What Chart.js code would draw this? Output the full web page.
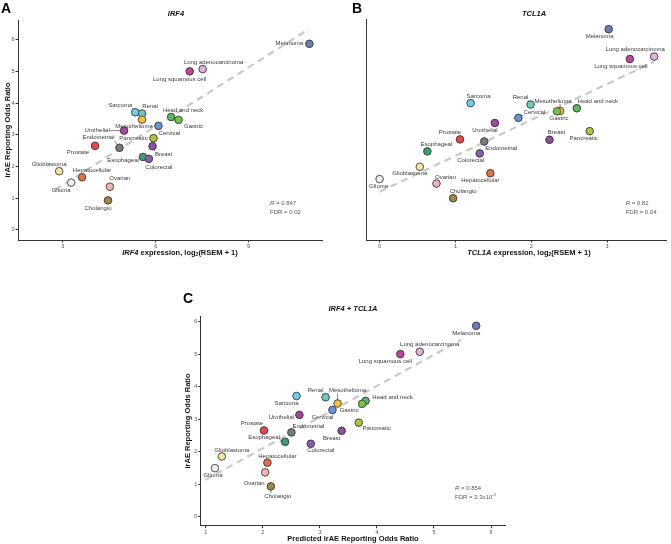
<!DOCTYPE html>
<html lang="en">
<head>
<meta charset="UTF-8">
<title>irAE Reporting Odds Ratio</title>
<script src="https://cdn.jsdelivr.net/npm/chart.js"></script>
</head>
<body style="margin:0; background:#fff; width:671px; height:544px; position:relative; overflow:hidden;">
<canvas id="chartA" width="335" height="270" style="position:absolute; left:0; top:0;"></canvas>
<canvas id="chartB" width="336" height="270" style="position:absolute; left:335px; top:0;"></canvas>
<canvas id="chartC" width="350" height="274" style="position:absolute; left:160px; top:270px;"></canvas>
<script>
// data
const cancers = ['Melanoma', 'Lung adenocarcinoma', 'Lung squamous cell', 'Sarcoma', 'Renal', 'Mesothelioma',
    'Head and neck', 'Gastric', 'Cervical', 'Urothelial', 'Pancreatic', 'Endometrial', 'Breast', 'Prostate',
    'Esophageal', 'Colorectal', 'Glioblastoma', 'Hepatocellular', 'Glioma', 'Ovarian', 'Cholangio'];
const observedOR = [5.87, 5.07, 5.00, 3.71, 3.67, 3.48, 3.56, 3.47, 3.28, 3.13, 2.89, 2.59, 2.64, 2.65,
    2.30, 2.24, 1.85, 1.66, 1.49, 1.36, 0.93];
const irf4Expr = [10.97, 7.52, 7.10, 5.34, 5.56, 5.56, 6.50, 6.74, 6.09, 4.98, 5.93, 4.83, 5.90, 4.04,
    5.59, 5.78, 2.88, 3.62, 3.27, 4.52, 4.46];
const tcl1aExpr = [3.02, 3.62, 3.30, 1.20, 1.99, 2.38, 2.60, 2.34, 1.83, 1.52, 2.77, 1.38, 2.24, 1.06,
    0.63, 1.32, 0.53, 1.46, 0.00, 0.75, 0.97];
const predictedOR = [5.74, 4.75, 4.41, 2.59, 3.10, 3.31, 3.80, 3.74, 3.22, 2.64, 3.68, 2.50, 3.38, 2.02,
    2.39, 2.84, 1.28, 2.08, 1.16, 2.04, 2.14];

// fitted lines (end points)
const fitIrf4X = [2.75, 10.95];
const fitIrf4Y = [1.26, 6.33];
const fitTcl1aX = [0.00, 3.62];
const fitTcl1aY = [1.12, 4.92];
const fitBothX = [0.99, 5.48];
const fitBothY = [1.13, 5.44];

const yTicks = [0, 1, 2, 3, 4, 5, 6];
const xTicksA = [3, 6, 9];
const xTicksB = [0, 1, 2, 3];
const xTicksC = [1, 2, 3, 4, 5, 6];

const colorOf = {
    'Melanoma': '#6b80b6', 'Lung adenocarcinoma': '#e2b3dd', 'Lung squamous cell': '#c0469b',
    'Sarcoma': '#71cfe9', 'Renal': '#6ec8be', 'Mesothelioma': '#f6bf45', 'Head and neck': '#5cb862',
    'Gastric': '#77c24c', 'Cervical': '#6993d3', 'Urothelial': '#a3469f', 'Pancreatic': '#b3c344',
    'Endometrial': '#7b7b7b', 'Breast': '#8d4f9f', 'Prostate': '#e6484f', 'Esophageal': '#3f9d78',
    'Colorectal': '#8a5cae', 'Glioblastoma': '#f6e6a6', 'Hepatocellular': '#de7149', 'Glioma': '#efefef',
    'Ovarian': '#f3b3b5', 'Cholangio': '#a28642'
};

// label offsets [dx, dy, leader]
const offsA = {
    'Melanoma': [-20, 0], 'Lung adenocarcinoma': [11, -7, 1], 'Lung squamous cell': [-10, 8], 'Sarcoma': [-15, -7, 1],
    'Renal': [8, -7], 'Head and neck': [12, -7, 1], 'Gastric': [15, 6], 'Cervical': [11, 7, 1], 'Mesothelioma': [-8, 7],
    'Urothelial': [-27, 0, 1], 'Pancreatic': [-20, 0], 'Endometrial': [-21, -10, 1], 'Breast': [11, 8, 1],
    'Prostate': [-17, 6], 'Esophageal': [-20, 3], 'Colorectal': [10, 8], 'Glioblastoma': [-10, -7],
    'Hepatocellular': [10, -7], 'Glioma': [-10, 8], 'Ovarian': [10, -8], 'Cholangio': [-10, 8]
};
const offsB = {
    'Melanoma': [-9, 7], 'Lung adenocarcinoma': [-19, -7, 1], 'Lung squamous cell': [-9, 7], 'Sarcoma': [8, -7],
    'Renal': [-10, -7, 1], 'Mesothelioma': [-7, -10, 1], 'Gastric': [2, 7], 'Head and neck': [21, -7],
    'Cervical': [16, -6, 1], 'Urothelial': [-10, 7], 'Pancreatic': [-6, 7], 'Breast': [7, -7], 'Prostate': [-10, -7],
    'Endometrial': [17, 7, 1], 'Esophageal': [9, -7], 'Colorectal': [-9, 7], 'Glioblastoma': [-10, 7],
    'Hepatocellular': [-10, 7], 'Glioma': [-1, 7], 'Ovarian': [9, -6], 'Cholangio': [10, -7]
};
const offsC = {
    'Melanoma': [-10, 8], 'Lung adenocarcinoma': [10, -7, 1], 'Lung squamous cell': [-15, 7, 1], 'Sarcoma': [-10, 7],
    'Renal': [-10, -7, 1], 'Mesothelioma': [10, -13, 1], 'Head and neck': [27, -4], 'Gastric': [-13, 7, 1],
    'Cervical': [-10, 7], 'Urothelial': [-18, 2], 'Pancreatic': [18, 6], 'Prostate': [-12, -7],
    'Endometrial': [17, -6, 1], 'Breast': [-10, 8], 'Esophageal': [-21, -4, 1], 'Colorectal': [10, 7],
    'Glioblastoma': [10, -6], 'Hepatocellular': [10, -6], 'Glioma': [-2, 7], 'Ovarian': [-11, 11], 'Cholangio': [7, 10, 1]
};

const FONT = '"Liberation Sans", Arial, sans-serif';

// draws runs of text with mixed styles, centred on x
function drawRuns(ctx, runs, x, y, align) {
    let total = 0;
    runs.forEach(r => { ctx.font = r[1] + ' ' + FONT; total += ctx.measureText(r[0]).width; });
    let cx = align === 'left' ? x : x - total / 2;
    ctx.textAlign = 'left';
    ctx.textBaseline = 'middle';
    runs.forEach(r => {
        ctx.font = r[1] + ' ' + FONT;
        ctx.fillText(r[0], cx, y + (r[2] || 0));
        cx += ctx.measureText(r[0]).width;
    });
}

function makePanel(id, cfg) {
    const pointData = cancers.map((c, i) => ({ x: cfg.xs[i], y: observedOR[i] }));
    const fitData = cfg.fitX.map((v, i) => ({ x: v, y: cfg.fitY[i] }));

    const textPlugin = {
        id: 'panelText',
        afterDatasetsDraw(chart) {
            const ctx = chart.ctx;
            ctx.save();
            // point labels
            const meta = chart.getDatasetMeta(1);
            ctx.font = '6px ' + FONT;
            cancers.forEach((c, i) => {
                const p = meta.data[i];
                const o = cfg.offs[c];
                const lx = p.x + o[0], ly = p.y + o[1];
                const w = ctx.measureText(c).width, h = 6;
                if (o[2]) {
                    const ex = Math.max(lx - w / 2, Math.min(p.x, lx + w / 2));
                    const ey = Math.max(ly - h / 2, Math.min(p.y, ly + h / 2));
                    ctx.strokeStyle = '#333';
                    ctx.lineWidth = 0.6;
                    ctx.beginPath();
                    ctx.moveTo(p.x, p.y);
                    ctx.lineTo(ex, ey);
                    ctx.stroke();
                }
                ctx.fillStyle = '#3a3a3a';
                ctx.textAlign = 'center';
                ctx.textBaseline = 'middle';
                ctx.fillText(c, lx, ly);
            });
            // redraw the points over leader lines
            meta.data.forEach(el => el.draw(ctx));

            ctx.fillStyle = '#000';
            ctx.font = 'bold 14px ' + FONT;
            ctx.textAlign = 'left';
            ctx.textBaseline = 'top';
            ctx.fillText(cfg.letter, cfg.letterPos[0], cfg.letterPos[1]);

            ctx.fillStyle = '#111';
            drawRuns(ctx, cfg.title, cfg.titlePos[0], cfg.titlePos[1]);
            drawRuns(ctx, cfg.xTitle, cfg.xTitlePos[0], cfg.xTitlePos[1]);
            if (cfg.yTitlePos) {
                ctx.save();
                ctx.translate(cfg.yTitlePos[0], cfg.yTitlePos[1]);
                ctx.rotate(-Math.PI / 2);
                drawRuns(ctx, [['irAE Reporting Odds Ratio', 'bold 7.5px']], 0, 0);
                ctx.restore();
            }
            ctx.fillStyle = '#555';
            drawRuns(ctx, [['R', 'italic 6px'], [' = ' + cfg.r, '6px']], cfg.statPos[0], cfg.statPos[1], 'left');
            drawRuns(ctx, cfg.fdr, cfg.statPos[0], cfg.statPos[1] + 9, 'left');
            ctx.restore();
        }
    };

    return new Chart(document.getElementById(id).getContext('2d'), {
        data: {
            datasets: [{
                type: 'line',
                data: fitData,
                borderColor: '#c8c8c8',
                borderWidth: 2.2,
                borderDash: [7, 5],
                pointRadius: 0,
                fill: false
            }, {
                type: 'scatter',
                data: pointData,
                pointRadius: 3.7,
                pointBorderWidth: 0.7,
                pointBorderColor: '#333',
                pointBackgroundColor: cancers.map(c => colorOf[c])
            }]
        },
        options: {
            responsive: false,
            animation: false,
            layout: { padding: cfg.padding },
            plugins: { legend: { display: false }, tooltip: { enabled: false } },
            scales: {
                x: {
                    type: 'linear',
                    min: cfg.xMin,
                    max: cfg.xMax,
                    afterBuildTicks: s => { s.ticks = cfg.xTicks.map(v => ({ value: v })); },
                    afterFit: s => { s.height = cfg.xAxisH; },
                    grid: { drawOnChartArea: false, drawTicks: true, tickLength: 2.5, color: '#333' },
                    border: { display: true, color: '#333', width: 1 },
                    ticks: { font: { size: 5.5, family: FONT }, color: '#555', padding: 1, maxRotation: 0 }
                },
                y: {
                    min: cfg.yMin,
                    max: cfg.yMax,
                    afterBuildTicks: s => { s.ticks = cfg.showY ? yTicks.map(v => ({ value: v })) : []; },
                    afterFit: s => { s.width = cfg.yAxisW; },
                    grid: { drawOnChartArea: false, drawTicks: cfg.showY, tickLength: 2.5, color: '#333' },
                    border: { display: true, color: '#333', width: 1 },
                    ticks: { display: cfg.showY, font: { size: 5.5, family: FONT }, color: '#555', padding: 1 }
                }
            }
        },
        plugins: [textPlugin]
    });
}

makePanel('chartA', {
    xs: irf4Expr, fitX: fitIrf4X, fitY: fitIrf4Y, offs: offsA, xTicks: xTicksA,
    xMin: 1.55, xMax: 11.4, yMin: -0.32, yMax: 6.62, showY: true,
    padding: { top: 20, right: 12.3, left: 0, bottom: 0 }, yAxisW: 18, xAxisH: 30,
    letter: 'A', letterPos: [1, 2],
    title: [['IRF4', 'italic bold 7.5px']], titlePos: [176, 14],
    xTitle: [['IRF4', 'italic bold 7.5px'], [' expression, log', 'bold 7.5px'], ['2', 'bold 5px', 2], ['(RSEM + 1)', 'bold 7.5px']],
    xTitlePos: [180, 253], yTitlePos: [8, 130],
    r: '0.847', fdr: [['FDR = 0.02', '6px']], statPos: [270, 203]
});

makePanel('chartB', {
    xs: tcl1aExpr, fitX: fitTcl1aX, fitY: fitTcl1aY, offs: offsB, xTicks: xTicksB,
    xMin: -0.17, xMax: 3.78, yMin: -0.29, yMax: 6.16, showY: false,
    padding: { top: 19.3, right: 1, left: 0, bottom: 0 }, yAxisW: 31.7, xAxisH: 30,
    letter: 'B', letterPos: [17, 2],
    title: [['TCL1A', 'italic bold 7.5px']], titlePos: [199, 14],
    xTitle: [['TCL1A', 'italic bold 7.5px'], [' expression, log', 'bold 7.5px'], ['2', 'bold 5px', 2], ['(RSEM + 1)', 'bold 7.5px']],
    xTitlePos: [194, 253], yTitlePos: null,
    r: '0.82', fdr: [['FDR = 0.04', '6px']], statPos: [290.7, 203]
});

makePanel('chartC', {
    xs: predictedOR, fitX: fitBothX, fitY: fitBothY, offs: offsC, xTicks: xTicksC,
    xMin: 0.91, xMax: 6.25, yMin: -0.28, yMax: 6.15, showY: true,
    padding: { top: 46.7, right: 4, left: 0, bottom: 0 }, yAxisW: 40.7, xAxisH: 18.3,
    letter: 'C', letterPos: [23, 22],
    title: [['IRF4 + TCL1A', 'italic bold 7.5px']], titlePos: [193, 39],
    xTitle: [['Predicted irAE Reporting Odds Ratio', 'bold 7.5px']],
    xTitlePos: [193, 269], yTitlePos: [28, 151],
    r: '0.854', fdr: [['FDR = 2.3x10', '6px'], ['-3', '4px', -2]], statPos: [295, 218.3]
});
</script>
</body>
</html>
